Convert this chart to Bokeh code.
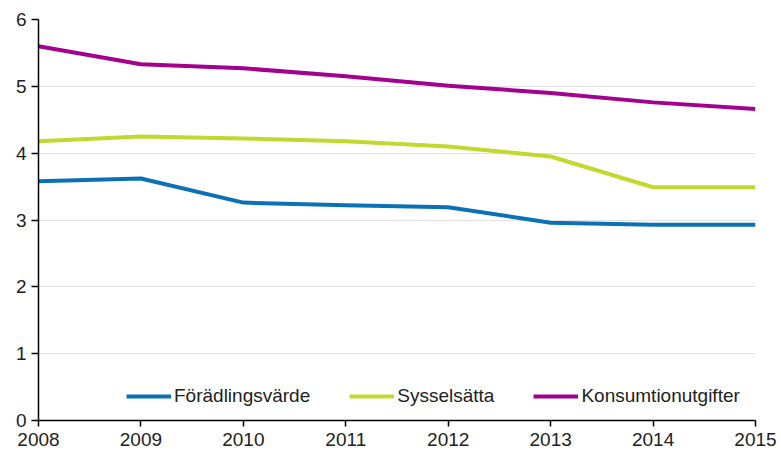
from bokeh.plotting import figure
from bokeh.models import Range1d, FixedTicker, Legend, LegendItem
from bokeh.embed import file_html
from bokeh.resources import INLINE

years = [2008, 2009, 2010, 2011, 2012, 2013, 2014, 2015]
foradlingsvarde = [3.58, 3.62, 3.26, 3.22, 3.19, 2.96, 2.93, 2.93]
sysselsatta = [4.18, 4.25, 4.22, 4.18, 4.10, 3.95, 3.49, 3.49]
konsumtionutgifter = [5.60, 5.33, 5.27, 5.15, 5.01, 4.90, 4.76, 4.66]
series_names = ["Förädlingsvärde", "Sysselsätta", "Konsumtionutgifter"]
colors = ["#0a72b4", "#c2d82e", "#a3008f"]
y_ticks = [0, 1, 2, 3, 4, 5, 6]

FONT = "Liberation Sans"

p = figure(width=781, height=452, output_backend="svg", toolbar_location=None,
           x_range=Range1d(2008, 2015), y_range=Range1d(0, 6),
           min_border_left=38, min_border_right=26, min_border_top=19, min_border_bottom=32)
p.outline_line_color = None
p.background_fill_color = "white"

items = []
for name, vals, c in zip(series_names, [foradlingsvarde, sysselsatta, konsumtionutgifter], colors):
    r = p.line(years, vals, line_color=c, line_width=4, line_join="round")
    items.append(LegendItem(label=name, renderers=[r]))

p.xgrid.grid_line_color = None
p.ygrid.grid_line_color = "#c4c4c4"
p.ygrid.grid_line_dash = "1 1"
p.ygrid.grid_line_width = 1
p.ygrid.ticker = FixedTicker(ticks=y_ticks)

p.xaxis.ticker = FixedTicker(ticks=years)
p.yaxis.ticker = FixedTicker(ticks=y_ticks)
for ax in (p.xaxis[0], p.yaxis[0]):
    ax.axis_line_color = "black"
    ax.axis_line_width = 1.5
    ax.major_tick_line_color = "black"
    ax.major_tick_line_width = 1.5
    ax.major_tick_in = 0
    ax.minor_tick_line_color = None
    ax.major_label_text_font = FONT
    ax.major_label_text_font_size = "19px"
    ax.major_label_text_color = "#222222"
p.xaxis.major_tick_out = 6
p.xaxis.major_label_standoff = 6
p.yaxis.major_tick_out = 7
p.yaxis.major_label_standoff = 5

legend = Legend(items=items, orientation="horizontal", location=(88, 13),
                glyph_width=45, glyph_height=20, label_standoff=3, spacing=39,
                padding=2, margin=0, border_line_color=None,
                background_fill_alpha=0,
                label_text_font=FONT, label_text_font_size="19px",
                label_text_color="#222222")
p.add_layout(legend, "center")

open("out.html", "w").write(file_html(p, INLINE))
